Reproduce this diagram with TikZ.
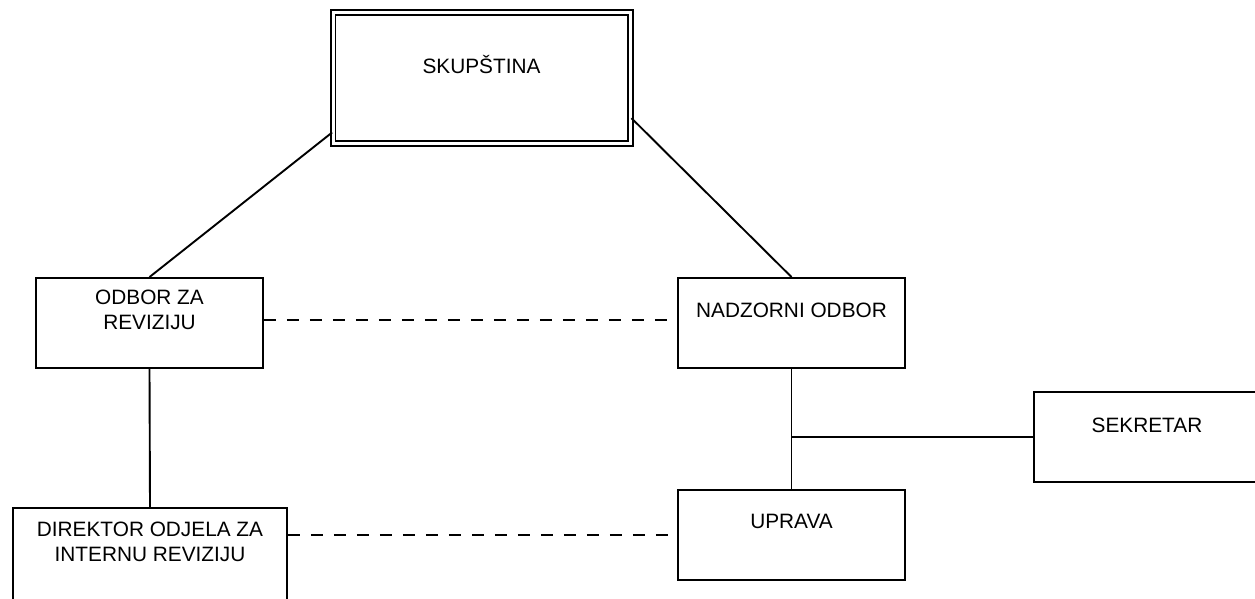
\documentclass[tikz,border=0pt]{standalone}
\usepackage{fontspec}
\setmainfont{Liberation Sans}
\usetikzlibrary{calc}

\tikzset{
  unitbox/.style={draw, rectangle, line width=1.9pt, inner sep=0pt},
  headbox/.style={draw, rectangle, double, double distance=3pt, line width=1.8pt, inner sep=0pt},
  boxtext/.style={inner sep=0pt, anchor=base, align=center,
    font=\fontsize{20.8}{25.5}\selectfont},
  link/.style={line width=1.9pt},
  dashlink/.style={line width=1.9pt, dash pattern=on 12pt off 11pt}
}

\begin{document}
\begin{tikzpicture}[x=1pt, y=-1pt]
  \useasboundingbox (0,0) rectangle (1255,598);

  % boxes
  \node[headbox, minimum width=297.5pt, minimum height=131pt] (skup) at (481.75,78) {};
  \node[unitbox, minimum width=227pt, minimum height=90pt] (odbor) at (149.5,323) {};
  \node[unitbox, minimum width=227pt, minimum height=90pt] (nadzor) at (791.5,323) {};
  \node[unitbox, minimum width=226pt, minimum height=90pt] (sekretar) at (1147,437) {};
  \node[unitbox, minimum width=227pt, minimum height=90pt] (uprava) at (791.5,535) {};
  \node[unitbox, minimum width=274pt, minimum height=94pt] (direktor) at (150,555) {};

  % labels
  \node[boxtext] (skup-t) at (481.5,73) {SKUPŠTINA};
  \node[boxtext] (odbor-t1) at (149.5,304) {ODBOR ZA};
  \node[boxtext] (odbor-t2) at (149.5,329.5) {REVIZIJU};
  \node[boxtext] (nadzor-t) at (791.5,317) {NADZORNI ODBOR};
  \node[boxtext] (sekretar-t) at (1147,432) {SEKRETAR};
  \node[boxtext] (uprava-t) at (791.5,528) {UPRAVA};
  \node[boxtext] (direktor-t1) at (150,536) {DIREKTOR ODJELA ZA};
  \node[boxtext] (direktor-t2) at (150,561.5) {INTERNU REVIZIJU};

  % solid connections
  \draw[link] (skup.200) -- (odbor.north);
  \draw[link] (skup.345) -- (nadzor.north);
  \draw[link] (odbor.south) -- (direktor.north);
  \draw[link] (nadzor.south) -- (uprava.north);
  \draw[link] (sekretar.west) -- (sekretar.west -| nadzor.south);

  % dashed connections
  \draw[dashlink] ($(odbor.east)+(0,-3)$) -- ($(nadzor.west)+(0,-3)$);
  \draw[dashlink] (uprava.west -| direktor.east) -- (uprava.west);
\end{tikzpicture}
\end{document}
